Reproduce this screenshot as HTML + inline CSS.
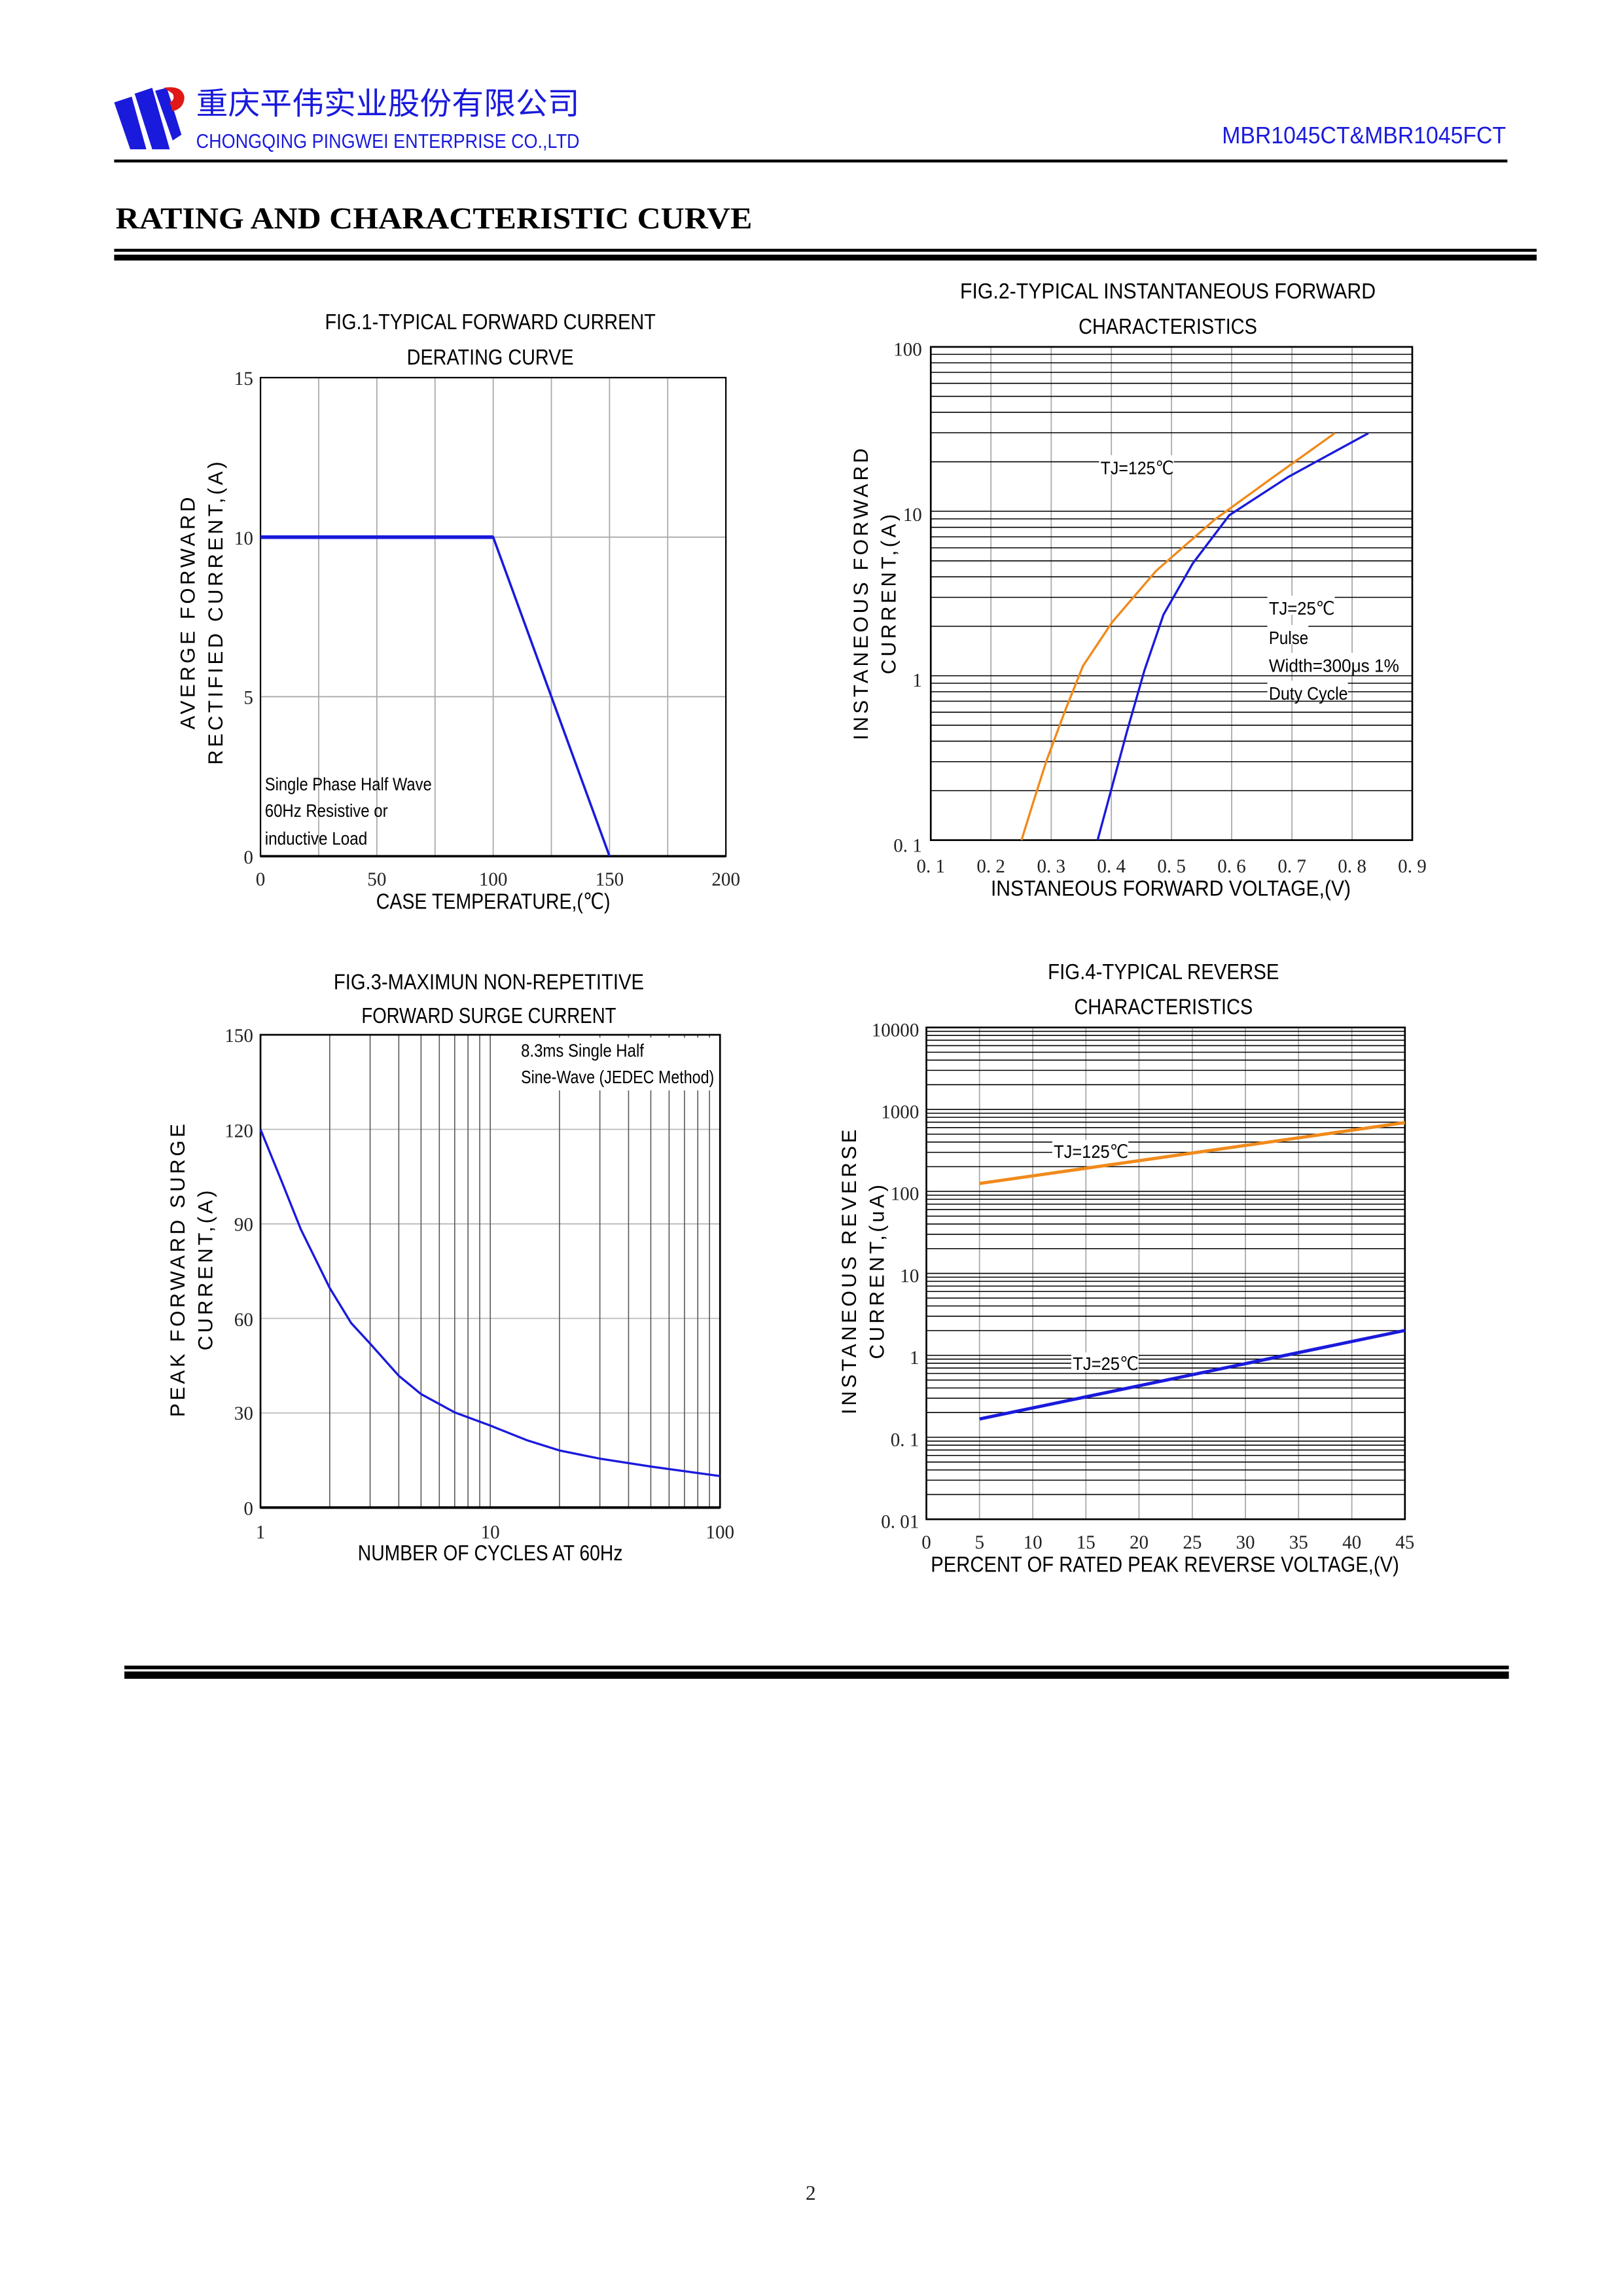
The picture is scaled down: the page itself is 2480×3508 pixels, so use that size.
<!DOCTYPE html>
<html><head><meta charset="utf-8"><style>
html,body{margin:0;padding:0;background:#fff;}
svg{display:block;}
.t{font-family:"Liberation Sans",sans-serif;}
.s{font-family:"Liberation Serif",serif;fill:#222;}
</style></head><body>
<svg width="2480" height="3508" viewBox="0 0 1109 1568.7" xmlns="http://www.w3.org/2000/svg">
<rect width="1109" height="1568.7" fill="#fff"/>
<!-- header -->
<polygon points="78,70 90,66 100,102 89,102" fill="#1a1adc"/>
<polygon points="92,64 104,60 116,102 104,102" fill="#1a1adc"/>
<polygon points="106,62 114,60 124,92 118,96" fill="#1a1adc"/>
<path d="M112,60 Q124,58 126,66 Q126,74 118,76 L116,70 Q120,68 118,64 Z" fill="#e01818"/>
<text x="134" y="78" font-size="21" fill="#1a1adc" font-family="'Liberation Sans','Noto Sans CJK SC',sans-serif" textLength="262" lengthAdjust="spacingAndGlyphs">重庆平伟实业股份有限公司</text>
<text x="134" y="101" class="t" font-size="13.5" fill="#1a1adc" textLength="262" lengthAdjust="spacingAndGlyphs">CHONGQING PINGWEI ENTERPRISE CO.,LTD</text>
<text x="1029" y="98" class="t" font-size="16" fill="#1a1adc" text-anchor="end" textLength="194" lengthAdjust="spacingAndGlyphs">MBR1045CT&amp;MBR1045FCT</text>
<rect x="78" y="109" width="952" height="2" fill="#000"/>
<text x="79" y="156" font-family="'Liberation Serif',serif" font-weight="bold" font-size="21" fill="#000" textLength="435" lengthAdjust="spacingAndGlyphs">RATING AND CHARACTERISTIC CURVE</text>
<rect x="78" y="170" width="972" height="2" fill="#000"/>
<rect x="78" y="174" width="972" height="4" fill="#000"/>

<!-- FIG1 -->
<text x="335" y="225" class="t" font-size="15" text-anchor="middle" textLength="226" lengthAdjust="spacingAndGlyphs">FIG.1-TYPICAL FORWARD CURRENT</text>
<text x="335" y="249" class="t" font-size="15" text-anchor="middle" textLength="114" lengthAdjust="spacingAndGlyphs">DERATING CURVE</text>
<g stroke="#aaa" stroke-width="0.8">
<path d="M217.75,258V585M257.5,258V585M297.25,258V585M337,258V585M376.75,258V585M416.5,258V585M456.25,258V585M178,367H496M178,476H496"/>
</g>
<rect x="178" y="258" width="318" height="327" fill="none" stroke="#000" stroke-width="1"/>
<line x1="178" y1="585" x2="496" y2="585" stroke="#000" stroke-width="1.6"/>
<polyline points="178,367 337,367 416.5,585" fill="none" stroke="#1a1adc" stroke-width="1.6"/>
<line x1="178" y1="367" x2="337" y2="367" stroke="#1a1adc" stroke-width="2.5"/>
<g class="s" font-size="13" text-anchor="end">
<text x="173" y="263">15</text><text x="173" y="372">10</text><text x="173" y="481">5</text><text x="173" y="590">0</text></g>
<g class="s" font-size="13" text-anchor="middle">
<text x="178" y="605">0</text><text x="257.5" y="605">50</text><text x="337" y="605">100</text><text x="416.5" y="605">150</text><text x="496" y="605">200</text></g>
<g class="t" font-size="12.5"><text x="181" y="540" textLength="114" lengthAdjust="spacingAndGlyphs">Single Phase Half Wave</text>
<text x="181" y="558" textLength="84" lengthAdjust="spacingAndGlyphs">60Hz Resistive or</text>
<text x="181" y="577" textLength="70" lengthAdjust="spacingAndGlyphs">inductive Load</text></g>
<text x="337" y="621" class="t" font-size="15" text-anchor="middle" textLength="160" lengthAdjust="spacingAndGlyphs">CASE TEMPERATURE,(℃)</text>
<g class="t" font-size="14" letter-spacing="2" text-anchor="middle">
<text transform="translate(133,418) rotate(-90)">AVERGE FORWARD</text>
<text transform="translate(152,418) rotate(-90)">RECTIFIED CURRENT,(A)</text></g>

<!-- FIG2 -->
<text x="798" y="204" class="t" font-size="15" text-anchor="middle" textLength="284" lengthAdjust="spacingAndGlyphs">FIG.2-TYPICAL INSTANTANEOUS FORWARD</text>
<text x="798" y="228" class="t" font-size="15" text-anchor="middle" textLength="122" lengthAdjust="spacingAndGlyphs">CHARACTERISTICS</text>
<g stroke="#aaa" stroke-width="0.8"><path d="M677.1,237V574M718.3,237V574M759.4,237V574M800.5,237V574M841.6,237V574M882.8,237V574M923.9,237V574"/></g>
<g stroke="#000" stroke-width="0.7"><path d="M636,540.2H965M636,520.4H965M636,506.4H965M636,495.5H965M636,486.6H965M636,479.1H965M636,472.6H965M636,466.8H965M636,461.7H965M636,427.9H965M636,408.1H965M636,394.1H965M636,383.2H965M636,374.3H965M636,366.8H965M636,360.3H965M636,354.5H965M636,349.3H965M636,315.5H965M636,295.7H965M636,281.7H965M636,270.8H965M636,261.9H965M636,254.4H965M636,247.9H965M636,242.1H965"/></g>
<rect x="636" y="237" width="329" height="337" fill="none" stroke="#000" stroke-width="1.2"/>
<polyline points="698,574 707,545 715,520 728,485 740,455 760,425 790,390 830,355 870,326 912,296" fill="none" stroke="#f08a1c" stroke-width="1.5"/>
<polyline points="750,574 760,537 770,500 782,458 795,420 815,385 840,352 880,326 935,296" fill="none" stroke="#1a1adc" stroke-width="1.5"/>
<g class="t" font-size="12.5">
<rect x="751" y="311" width="51" height="13" fill="#fff"/><text x="752" y="324" textLength="50" lengthAdjust="spacingAndGlyphs">TJ=125℃</text>
<rect x="866" y="407" width="46" height="13" fill="#fff"/><text x="867" y="420" textLength="45" lengthAdjust="spacingAndGlyphs">TJ=25℃</text>
<rect x="866" y="427" width="28" height="13" fill="#fff"/><text x="867" y="440" textLength="27" lengthAdjust="spacingAndGlyphs">Pulse</text>
<rect x="866" y="446" width="91" height="13" fill="#fff"/><text x="867" y="459" textLength="89" lengthAdjust="spacingAndGlyphs">Width=300μs 1%</text>
<rect x="866" y="465" width="55" height="13" fill="#fff"/><text x="867" y="478" textLength="54" lengthAdjust="spacingAndGlyphs">Duty Cycle</text></g>
<g class="s" font-size="13" text-anchor="end">
<text x="630" y="243">100</text><text x="630" y="356">10</text><text x="630" y="469">1</text><text x="630" y="582">0. 1</text></g>
<g class="s" font-size="13" text-anchor="middle">
<text x="636" y="596">0. 1</text><text x="677.1" y="596">0. 2</text><text x="718.3" y="596">0. 3</text><text x="759.4" y="596">0. 4</text><text x="800.5" y="596">0. 5</text><text x="841.6" y="596">0. 6</text><text x="882.8" y="596">0. 7</text><text x="923.9" y="596">0. 8</text><text x="965" y="596">0. 9</text></g>
<text x="800" y="612" class="t" font-size="15" text-anchor="middle" textLength="246" lengthAdjust="spacingAndGlyphs">INSTANEOUS FORWARD VOLTAGE,(V)</text>
<g class="t" font-size="14" letter-spacing="2" text-anchor="middle">
<text transform="translate(593,405) rotate(-90)">INSTANEOUS FORWARD</text>
<text transform="translate(612,405) rotate(-90)">CURRENT,(A)</text></g>

<!-- FIG3 -->
<text x="334" y="676" class="t" font-size="15" text-anchor="middle" textLength="212" lengthAdjust="spacingAndGlyphs">FIG.3-MAXIMUN NON-REPETITIVE</text>
<text x="334" y="699" class="t" font-size="15" text-anchor="middle" textLength="174" lengthAdjust="spacingAndGlyphs">FORWARD SURGE CURRENT</text>
<g stroke="#bbb" stroke-width="0.8"><path d="M178,965.4H492M178,900.8H492M178,836.2H492M178,771.6H492"/></g>
<g stroke="#555" stroke-width="0.7"><path d="M225.3,707V1030M252.9,707V1030M272.5,707V1030M287.7,707V1030M300.2,707V1030M310.7,707V1030M319.8,707V1030M327.8,707V1030M335,707V1030M382.3,707V1030M409.9,707V1030M429.5,707V1030M444.7,707V1030M457.2,707V1030M467.7,707V1030M476.8,707V1030M484.8,707V1030"/></g>
<rect x="354" y="709" width="134" height="36" fill="#fff"/>
<rect x="178" y="707" width="314" height="323" fill="none" stroke="#000" stroke-width="1.2"/>
<line x1="178" y1="1030" x2="492" y2="1030" stroke="#000" stroke-width="1.8"/>
<polyline points="178,771.6 192,806 205.6,840 225.3,880 240,904 252.9,918 272.5,940 287.7,952.5 310.7,965 335,974 360,984 382.3,991 409.9,996.6 444.7,1002 492,1008.5" fill="none" stroke="#1a1adc" stroke-width="1.5"/>
<g class="t" font-size="12.5"><text x="356" y="722" textLength="84" lengthAdjust="spacingAndGlyphs">8.3ms Single Half</text>
<text x="356" y="740" textLength="132" lengthAdjust="spacingAndGlyphs">Sine-Wave (JEDEC Method)</text></g>
<g class="s" font-size="13" text-anchor="end">
<text x="173" y="712">150</text><text x="173" y="777">120</text><text x="173" y="841">90</text><text x="173" y="906">60</text><text x="173" y="970">30</text><text x="173" y="1035">0</text></g>
<g class="s" font-size="13" text-anchor="middle"><text x="178" y="1051">1</text><text x="335" y="1051">10</text><text x="492" y="1051">100</text></g>
<text x="335" y="1066" class="t" font-size="15" text-anchor="middle" textLength="181" lengthAdjust="spacingAndGlyphs">NUMBER OF CYCLES AT 60Hz</text>
<g class="t" font-size="14" letter-spacing="2" text-anchor="middle">
<text transform="translate(126,867) rotate(-90)">PEAK FORWARD SURGE</text>
<text transform="translate(145,867) rotate(-90)">CURRENT,(A)</text></g>

<!-- FIG4 -->
<text x="795" y="669" class="t" font-size="15" text-anchor="middle" textLength="158" lengthAdjust="spacingAndGlyphs">FIG.4-TYPICAL REVERSE</text>
<text x="795" y="693" class="t" font-size="15" text-anchor="middle" textLength="122" lengthAdjust="spacingAndGlyphs">CHARACTERISTICS</text>
<g stroke="#aaa" stroke-width="0.8"><path d="M669.3,702V1038M705.7,702V1038M742,702V1038M778.3,702V1038M814.7,702V1038M851,702V1038M887.3,702V1038M923.7,702V1038"/></g>
<g stroke="#000" stroke-width="0.7"><path d="M633,1021.1H960M633,1011.3H960M633,1004.3H960M633,998.9H960M633,994.4H960M633,990.7H960M633,987.4H960M633,984.6H960M633,982H960M633,965.1H960M633,955.3H960M633,948.3H960M633,942.9H960M633,938.4H960M633,934.7H960M633,931.4H960M633,928.6H960M633,926H960M633,909.1H960M633,899.3H960M633,892.3H960M633,886.9H960M633,882.4H960M633,878.7H960M633,875.4H960M633,872.6H960M633,870H960M633,853.1H960M633,843.3H960M633,836.3H960M633,830.9H960M633,826.4H960M633,822.7H960M633,819.4H960M633,816.6H960M633,814H960M633,797.1H960M633,787.3H960M633,780.3H960M633,774.9H960M633,770.4H960M633,766.7H960M633,763.4H960M633,760.6H960M633,758H960M633,741.1H960M633,731.3H960M633,724.3H960M633,718.9H960M633,714.4H960M633,710.7H960M633,707.4H960M633,704.6H960"/></g>
<rect x="633" y="702" width="327" height="336" fill="none" stroke="#000" stroke-width="1.2"/>
<line x1="669.3" y1="808.6" x2="960" y2="767" stroke="#f08a1c" stroke-width="2.2"/>
<line x1="669.3" y1="969.5" x2="960" y2="909" stroke="#1a1adc" stroke-width="2.2"/>
<g class="t" font-size="12.5">
<rect x="719" y="779" width="52" height="13" fill="#fff"/><text x="720" y="791" textLength="51" lengthAdjust="spacingAndGlyphs">TJ=125℃</text>
<rect x="732" y="924" width="46" height="13" fill="#fff"/><text x="733" y="936" textLength="45" lengthAdjust="spacingAndGlyphs">TJ=25℃</text></g>
<g class="s" font-size="13" text-anchor="end">
<text x="628" y="708">10000</text><text x="628" y="764">1000</text><text x="628" y="820">100</text><text x="628" y="876">10</text><text x="628" y="932">1</text><text x="628" y="988">0. 1</text><text x="628" y="1044">0. 01</text></g>
<g class="s" font-size="13" text-anchor="middle">
<text x="633" y="1058">0</text><text x="669.3" y="1058">5</text><text x="705.7" y="1058">10</text><text x="742" y="1058">15</text><text x="778.3" y="1058">20</text><text x="814.7" y="1058">25</text><text x="851" y="1058">30</text><text x="887.3" y="1058">35</text><text x="923.7" y="1058">40</text><text x="960" y="1058">45</text></g>
<text x="796" y="1074" class="t" font-size="15" text-anchor="middle" textLength="320" lengthAdjust="spacingAndGlyphs">PERCENT OF RATED PEAK REVERSE VOLTAGE,(V)</text>
<g class="t" font-size="14" letter-spacing="2" text-anchor="middle">
<text transform="translate(585,868) rotate(-90)">INSTANEOUS REVERSE</text>
<text transform="translate(604,868) rotate(-90)">CURRENT,(uA)</text></g>

<!-- footer -->
<rect x="85" y="1138" width="946" height="2.5" fill="#000"/>
<rect x="85" y="1142" width="946" height="5" fill="#000"/>
<text x="554" y="1503" class="s" font-size="14" text-anchor="middle">2</text>
</svg>
</body></html>
